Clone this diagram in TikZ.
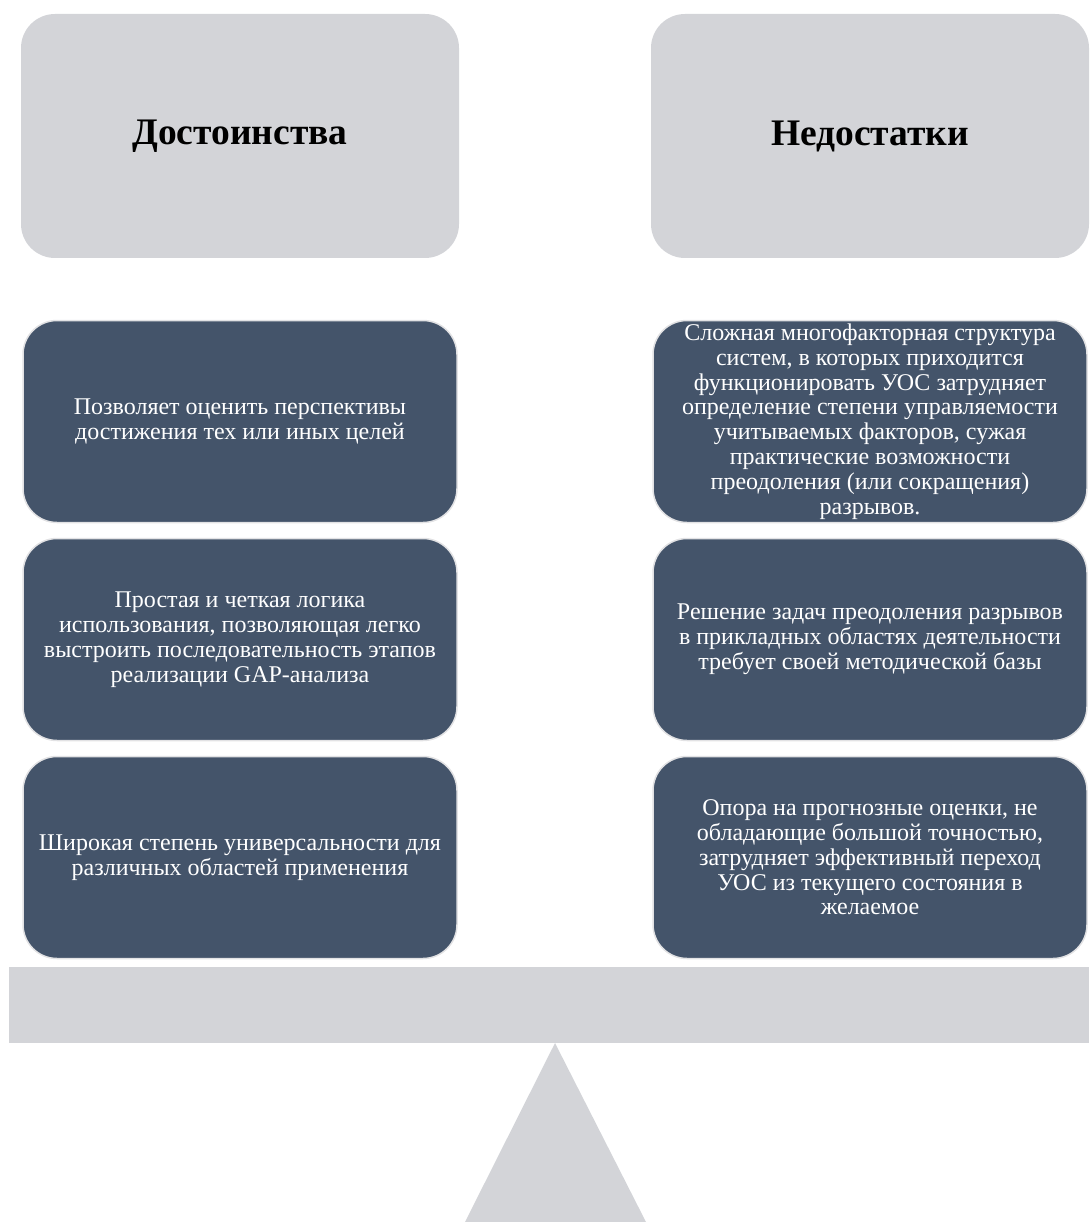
\documentclass[tikz,border=0pt]{standalone}
\usepackage{fontspec}
\setmainfont{Liberation Serif}
\usetikzlibrary{positioning}
\definecolor{scaleGray}{HTML}{D3D4D8}
\definecolor{slateBlue}{HTML}{44546A}
\definecolor{rimGray}{HTML}{E2E2E4}
\tikzset{%
  % Specifications for style of nodes:
        base/.style = {rectangle, rounded corners=34pt, align=center,
                       text centered, inner sep=0pt},
      header/.style = {base, fill=scaleGray, minimum width=438pt,
                       minimum height=244pt,
                       font=\fontsize{37.5}{42}\selectfont\bfseries},
    argument/.style = {base, fill=slateBlue, draw=rimGray, line width=1.5pt,
                       text=white, minimum width=434pt, minimum height=202pt,
                       font=\fontsize{24}{24.8}\selectfont},
        beam/.style = {rectangle, fill=scaleGray, minimum width=1080pt,
                       minimum height=76pt, inner sep=0pt},
}
\begin{document}
\begin{tikzpicture}[x=1pt, y=-1pt, node distance=218pt]
  \useasboundingbox (0,0) rectangle (1089,1222);
  % Specification of nodes (position, etc.)
  \node (pros)    [header] at (240,136)  {Достоинства};
  \node (cons)    [header] at (870,136)  {Недостатки};

  \node (pro1) [argument] at (240,421.5)
    {Позволяет оценить перспективы\\достижения тех или иных целей};
  \node (pro2) [argument, below of=pro1]
    {Простая и четкая логика\\использования, позволяющая легко\\выстроить последовательность этапов\\реализации GAP-анализа};
  \node (pro3) [argument, below of=pro2]
    {Широкая степень универсальности для\\различных областей применения};

  \node (con1) [argument] at (870,421.5)
    {Сложная многофакторная структура\\систем, в которых приходится\\функционировать УОС затрудняет\\определение степени управляемости\\учитываемых факторов, сужая\\практические возможности\\преодоления (или сокращения)\\разрывов.};
  \node (con2) [argument, below of=con1]
    {Решение задач преодоления разрывов\\в прикладных областях деятельности\\требует своей методической базы};
  \node (con3) [argument, below of=con2]
    {Опора на прогнозные оценки, не\\обладающие большой точностью,\\затрудняет эффективный переход\\УОС из текущего состояния в\\желаемое};

  % beam and pivot of the scales
  \node (beam) [beam] at (549,1005) {};
  \coordinate (apex) at (555,1043);
  \fill[scaleGray] (apex) -- (465,1222) -- (646,1222) -- cycle;
\end{tikzpicture}
\end{document}
